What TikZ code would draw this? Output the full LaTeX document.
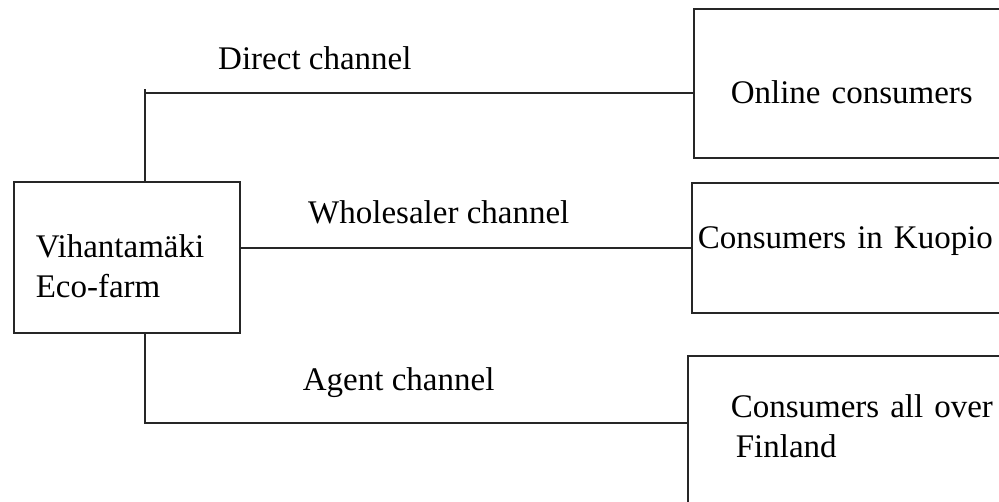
\documentclass[tikz,border=0pt]{standalone}
\usepackage{fontspec}
\setmainfont{Liberation Serif}
\usetikzlibrary{calc}

\begin{document}
\begin{tikzpicture}[
    x=1pt, y=-1pt,
    every node/.style={font=\fontsize{33}{40}\selectfont, inner ysep=0pt},
    box/.style={rectangle, draw=black!85, line width=1.6pt, align=left, anchor=north west, text depth=0pt},
    line/.style={draw=black!85, line width=1.6pt},
    lbl/.style={anchor=base, inner sep=0pt}
]
\useasboundingbox (0,0) rectangle (999,501);

% Nodes
\node (farm) [box, inner xsep=22pt, text width=182pt, minimum height=151pt, text height=41pt, text depth=40pt] at (13,181) {Vihantamäki\\Eco-farm};

% Consumer boxes, cut off at the right edge
\node (online) [box, inner xsep=37pt, text width=300pt, minimum height=149pt, text height=41pt] at (693,8) {Online consumers};
\node (kuopio) [box, inner xsep=6pt, text width=330pt, minimum height=130pt, text height=9pt, text depth=7pt] at (691,182) {Consumers in Kuopio};
\node (finland) [box, inner xsep=43pt, text width=300pt, minimum height=147pt, text height=17pt, text depth=40pt] at (687,355) {Consumers all over\\\hspace*{5pt}Finland};

% Turning points of the channels
\coordinate (directTurn) at (145,93);
\coordinate (agentTurn) at (145,423);

% Channels
\draw[line] (farm.north -| directTurn) -- ([yshift=4pt]directTurn);
\draw[line] (directTurn) -- (directTurn -| online.west) node (directLbl) [lbl, pos=0.31, yshift=24pt] {Direct channel};
\draw[line] (farm.east |- kuopio.west) -- (kuopio.west) node (wholesalerLbl) [lbl, pos=0.44, yshift=24pt] {Wholesaler channel};
\draw[line] (farm.south -| agentTurn) -- (agentTurn) -- (agentTurn -| finland.west) node (agentLbl) [lbl, pos=0.468, yshift=33pt] {Agent channel};

\end{tikzpicture}
\end{document}
